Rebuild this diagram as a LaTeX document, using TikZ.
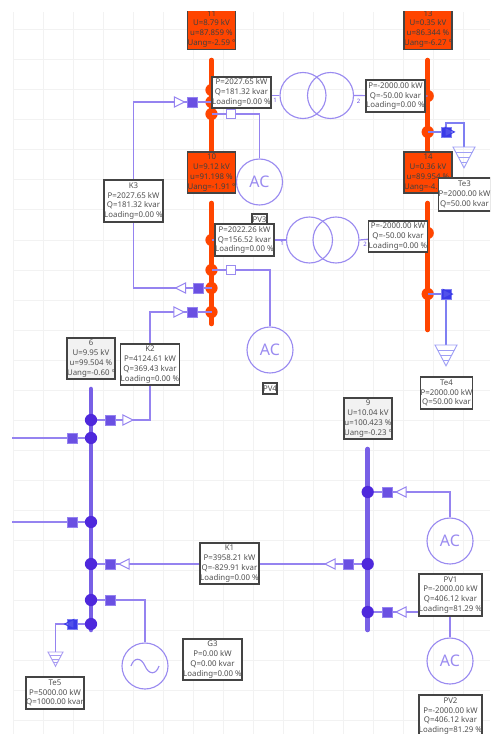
\documentclass[tikz,border=0pt]{standalone}
\usepackage{fontspec}
\setmainfont{Noto Sans}
\usetikzlibrary{shapes.geometric}
\definecolor{gridc}{HTML}{F2F2F2}
\definecolor{wirec}{HTML}{9583F0}
\definecolor{busv}{HTML}{7860E6}
\definecolor{nodev}{HTML}{4E28DC}
\definecolor{sqv}{HTML}{6A50E2}
\definecolor{orangec}{HTML}{FF4500}
\definecolor{bluec}{HTML}{3A3AE8}
\definecolor{bwire}{HTML}{7F7FF2}
\definecolor{framec}{HTML}{444444}
\definecolor{symc}{HTML}{9A8BF0}
\definecolor{txtc}{HTML}{505050}
\pgfdeclarelayer{gridlayer}
\pgfdeclarelayer{buslayer}
\pgfdeclarelayer{wirelayer}
\pgfsetlayers{gridlayer,buslayer,wirelayer,main}
\tikzset{
  x=0.75pt,y=-0.75pt,
  wire/.style={draw=wirec,line width=0.9pt},
  bwirest/.style={draw=bwire,line width=0.9pt},
  barv/.style={draw=busv,line width=3.4pt,line cap=round},
  baro/.style={draw=orangec,line width=3.4pt,line cap=round},
  dotv/.style={circle,fill=nodev,inner sep=0pt,minimum size=9.2pt},
  doto/.style={circle,fill=orangec,inner sep=0pt,minimum size=9.2pt},
  sq/.style={rectangle,fill=sqv,draw=wirec,line width=0.5pt,inner sep=0pt,minimum size=7.4pt},
  sqw/.style={rectangle,fill=white,draw=symc,line width=0.8pt,inner sep=0pt,minimum size=7.4pt},
  sqb/.style={rectangle,fill=bluec,draw=bwire,line width=0.5pt,inner sep=0pt,minimum size=7.4pt},
  tri/.style={isosceles triangle,isosceles triangle apex angle=60,isosceles triangle stretches,
    draw=wirec,fill=white,line width=0.8pt,inner sep=0pt,minimum height=7.6pt,minimum width=7.6pt,shape border rotate=#1},
  trib/.style={isosceles triangle,isosceles triangle apex angle=60,isosceles triangle stretches,
    draw=bluec,fill=bluec!70!white,fill opacity=0.4,line width=0.7pt,inner sep=0pt,minimum height=7pt,minimum width=7pt,shape border rotate=#1},
  ring/.style={circle,draw=symc,line width=0.85pt,inner sep=0pt,minimum size=34.5pt,
    text=symc,font=\fontsize{12}{14}\selectfont},
  lbl/.style 2 args={rectangle,draw=framec,line width=1.1pt,fill=white,inner sep=0pt,
    minimum width=#1*0.75pt,minimum height=#2*0.75pt,align=center,text=txtc,
    font=\fontsize{5.9}{7.35}\selectfont},
  lblg/.style 2 args={lbl={#1}{#2},fill=black!5},
  lblo/.style 2 args={lbl={#1}{#2},fill=orangec,text=black!75},
  tag/.style={text=sqv,font=\fontsize{4.5}{5}\selectfont,inner sep=0pt},
  gsym/.style={draw=#1,line width=0.7pt}
}
\newcommand{\groundmark}[5]{% name, x, ytop, half width, colour
  \coordinate (#1) at (#2,#3);
  \draw[gsym=#5] (#2-#4,#3) -- (#2+#4,#3) -- (#2,#3+#4*2*0.95) -- cycle;
  \foreach \f in {0.27,0.52,0.76}{
    \draw[gsym=#5] (#2-#4*1+#4*\f,#3+#4*1.9*\f) -- (#2+#4-#4*\f,#3+#4*1.9*\f);
  }
}
\begin{document}
\begin{tikzpicture}
\useasboundingbox (0,0) rectangle (490,734);
\clip (0,12) rectangle (490,734);
% grid
\begin{pgfonlayer}{gridlayer}
\foreach \gx in {13,43,...,493}{\draw[gridc,line width=0.75pt] (\gx,12) -- (\gx,734);}
\foreach \gy in {30,60,...,720}{\draw[gridc,line width=0.75pt] (13,\gy) -- (490,\gy);}
\end{pgfonlayer}
% busbars
\begin{pgfonlayer}{buslayer}
\coordinate (b1a) at (211.5,60); \coordinate (b1b) at (211.5,151);
\coordinate (b2a) at (427.7,60); \coordinate (b2b) at (427.7,151);
\coordinate (b3a) at (211.5,203); \coordinate (b3b) at (211.5,324);
\coordinate (b4a) at (427.7,203); \coordinate (b4b) at (427.7,330);
\coordinate (b5a) at (91,389); \coordinate (b5b) at (91,630);
\coordinate (b6a) at (367.7,449); \coordinate (b6b) at (367.7,630);
\draw[baro] (b1a) -- (b1b);
\draw[baro] (b2a) -- (b2b);
\draw[baro] (b3a) -- (b3b);
\draw[baro] (b4a) -- (b4b);
\draw[barv] (b5a) -- (b5b);
\draw[barv] (b6a) -- (b6b);
\node[doto] (c90) at (211.5,90) {};
\node[doto] (c102) at (211.5,102) {};
\node[doto] (c114) at (211.5,114) {};
\node[doto] (d96) at (427.7,96) {};
\node[doto] (d132) at (427.7,132) {};
\node[doto] (c240) at (211.5,240) {};
\node[doto] (c270) at (211.5,270) {};
\node[doto] (c288) at (211.5,288) {};
\node[doto] (c312) at (211.5,312) {};
\node[doto] (d233) at (427.7,233) {};
\node[doto] (d294) at (427.7,294) {};
\end{pgfonlayer}
\node[dotv] (e420) at (91,420) {};
\node[dotv] (e438) at (91,438) {};
\node[dotv] (e522) at (91,522) {};
\node[dotv] (e564) at (91,564) {};
\node[dotv] (e600) at (91,600) {};
\node[dotv] (e624) at (91,624) {};
\node[dotv] (f492) at (367.7,492) {};
\node[dotv] (f564) at (367.7,564) {};
\node[dotv] (f612) at (367.7,612) {};
% symbols
\node[ring] (t1a) at (303,95.5) {};
\node[ring] (t1b) at (330.5,95.5) {};
\node[ring] (t2a) at (309.5,240) {};
\node[ring] (t2b) at (336,240) {};
\node[ring] (ac1) at (259.5,182) {AC};
\node[ring] (ac2) at (270,350) {AC};
\node[ring] (ac3) at (450,541) {AC};
\node[ring] (ac4) at (450,661) {AC};
\node[ring] (gen) at (145,666) {};
\draw[draw=symc,line width=0.85pt] (gen.center) ++(-14,0) .. controls +(3,-9) and +(-4,-9) .. (gen.center) .. controls +(4,9) and +(-3,9) .. ++(14,0);
% squares and arrows
\node[sq] (s1) at (192,102) {};
\node[tri=0] (a1) at (177.5,102) {};
\node[sqw] (s2) at (231,114) {};
\node[sqw] (s3) at (231,270) {};
\node[sq] (s4) at (198,288) {};
\node[tri=180] (a4) at (182.5,288) {};
\node[sq] (s5) at (192,312) {};
\node[tri=0] (a5) at (177,312) {};
\node[sq] (s6) at (110.5,420) {};
\node[tri=0] (a6) at (126,420) {};
\node[sq] (s7) at (72,438) {};
\node[sq] (s8) at (72,522) {};
\node[sq] (s9) at (110.5,564) {};
\node[tri=180] (a9) at (126,564) {};
\node[sq] (s10) at (110.5,600) {};
\node[sqb] (s11) at (72,624) {};
\node[trib=180] (a11) at (71,624) {};
\node[sq] (s12) at (348,564) {};
\node[tri=180] (a12) at (332,564) {};
\node[sq] (s13) at (387,492) {};
\node[tri=180] (a13) at (403,492) {};
\node[sq] (s14) at (387,612) {};
\node[tri=180] (a14) at (403,612) {};
\node[sqb] (s15) at (446,132) {};
\node[trib=0] (a15) at (448,132) {};
\node[sqb] (s16) at (446,294) {};
\node[trib=0] (a16) at (446,294) {};
% terminal markers
\node[tag] (m1) at (275,100.5) {1};
\node[tag] (m2) at (358.5,101) {2};
\node[tag] (m3) at (282,243.5) {1};
\node[tag] (m4) at (365,244.5) {2};
% ground symbols
\groundmark{g3}{464}{147}{11}{bwire!75!white}
\groundmark{g4}{446}{345}{11}{bwire!75!white}
\groundmark{g5}{55.5}{652}{7.5}{symc!85!white}
\coordinate (c3) at (446,123);
\coordinate (w1) at (12,438);
\coordinate (w2) at (12,522);
% labels
\node[lblo={45.5}{41}] (n11) at (211.5,29) {11\\U=8.79 kV\\u=87.859 \%\\Uang=-2.59 °};
\node[lblo={45.5}{41}] (n10) at (211.5,172.5) {10\\U=9.12 kV\\u=91.198 \%\\Uang=-1.91 °};
\node[lblo={46}{41}] (n13) at (428,29) {13\\U=0.35 kV\\u=86.344 \%\\Uang=-6.27 °};
\node[lblo={46}{41}] (n14) at (428,172.5) {14\\U=0.36 kV\\u=89.954 \%\\Uang=-4.98 °};
\node[lbl={55}{31}] (lp1) at (241.5,92.5) {P=2027.65 kW\\Q=181.32 kvar\\Loading=0.00 \%};
\node[lbl={55}{32}] (lp2) at (395.5,96) {P=-2000.00 kW\\Q=-50.00 kvar\\Loading=0.00 \%};
\node[lbl={55}{42}] (k3) at (133.5,201) {K3\\P=2027.65 kW\\Q=181.32 kvar\\Loading=0.00 \%};
\node[lbl={49}{33}] (te3) at (464.5,194.5) {Te3\\P=2000.00 kW\\Q=50.00 kvar};
\node[lbl={15}{12},fill=white] (pv3) at (259.5,220) {PV3};
\node[lbl={55}{32}] (lp3) at (244.5,240) {P=2022.26 kW\\Q=156.52 kvar\\Loading=0.00 \%};
\node[lbl={54}{31}] (lp4) at (398,236.5) {P=-2000.00 kW\\Q=-50.00 kvar\\Loading=0.00 \%};
\node[lbl={49}{32}] (te4) at (446.5,393) {Te4\\P=2000.00 kW\\Q=50.00 kvar};
\node[lbl={14}{11}] (pv4) at (270,388.5) {PV4};
\node[lbl={54}{41}] (k2) at (150,364.5) {K2\\P=4124.61 kW\\Q=369.43 kvar\\Loading=0.00 \%};
\node[lblg={46}{41}] (n6) at (91,358.5) {6\\U=9.95 kV\\u=99.504 \%\\Uang=-0.60 °};
\node[lblg={46}{41}] (n9) at (368,418.5) {9\\U=10.04 kV\\u=100.423 \%\\Uang=-0.23 °};
\node[lbl={55}{41}] (k1) at (229.5,563.5) {K1\\P=3958.21 kW\\Q=-829.91 kvar\\Loading=0.00 \%};
\node[lbl={59}{42}] (pv1) at (450.5,595) {PV1\\P=-2000.00 kW\\Q=406.12 kvar\\Loading=81.29 \%};
\node[lbl={59}{42}] (pv2) at (450.5,716) {PV2\\P=-2000.00 kW\\Q=406.12 kvar\\Loading=81.29 \%};
\node[lbl={55}{41}] (g3b) at (212.5,659.5) {G3\\P=0.00 kW\\Q=0.00 kvar\\Loading=0.00 \%};
\node[lbl={54}{32}] (te5) at (55,693) {Te5\\P=5000.00 kW\\Q=1000.00 kvar};
% connectors
\begin{pgfonlayer}{wirelayer}
\draw[wire] (c102.center) -| (k3.center);
\draw[wire] (k3.center) |- (c288.center);
\draw[wire] (c312.center) -| (k2.center);
\draw[wire] (k2.center) |- (e420.center);
\draw[wire] (c90.center) -| (lp1.center) |- (t1a.west);
\draw[wire] (t1b.east) -- (lp2.center) |- (d96.center);
\draw[wire] (c240.center) -- (t2a.west);
\draw[wire] (t2b.east) -- (lp4.center) |- (d233.center);
\draw[wire] (c114.center) -| (ac1.north);
\draw[wire] (c270.center) -| (ac2.north);
\draw[wire] (w1) -- (e438.center);
\draw[wire] (w2) -- (e522.center);
\draw[wire] (e564.center) -- (f564.center);
\draw[wire] (e600.center) -| (gen.north);
\draw[wire] (e624.center) -| (g5);
\draw[wire] (f492.center) -| (ac3.north);
\draw[wire] (f612.center) -| (ac4.north);
\draw[bwirest] (d132.center) -- (s15.center) -- (c3) -| (g3);
\draw[bwirest] (d294.center) -| (g4);
\end{pgfonlayer}
\end{tikzpicture}
\end{document}
